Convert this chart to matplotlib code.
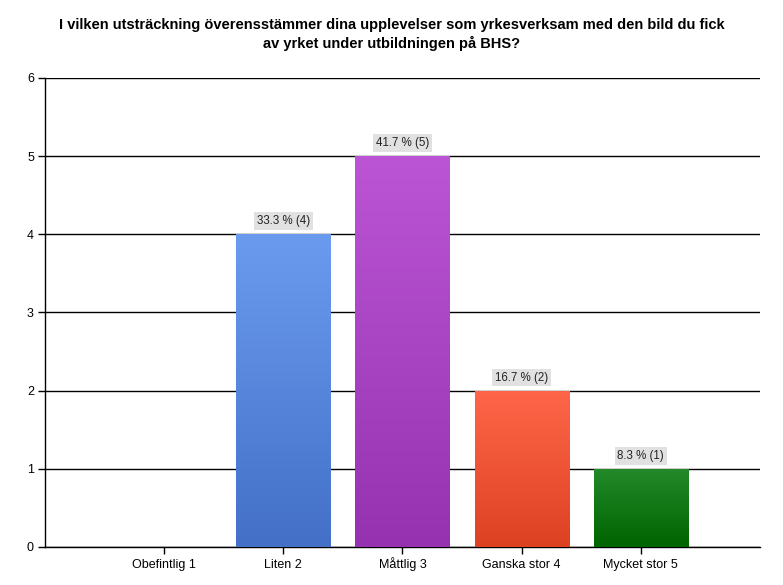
import matplotlib.pyplot as plt
import numpy as np
from matplotlib.colors import LinearSegmentedColormap

plt.rcParams['font.family'] = ['Liberation Sans', 'DejaVu Sans']

# data
categories = ['Obefintlig 1', 'Liten 2', 'Måttlig 3', 'Ganska stor 4', 'Mycket stor 5']
counts = [0, 4, 5, 2, 1]
percents = [0.0, 33.3, 41.7, 16.7, 8.3]
top_colors = ['#6a9bee', '#6a9bee', '#bb55d5', '#ff6548', '#23892a']
bottom_colors = ['#4470c8', '#4470c8', '#9632b0', '#dc4222', '#006400']
title = ('I vilken utsträckning överensstämmer dina upplevelser som yrkesverksam med den bild du fick\n'
         'av yrket under utbildningen på BHS?')

fig = plt.figure(figsize=(7.83, 5.85), dpi=100)
ax = fig.add_axes([0.0575, 0.065, 0.913, 0.802])

x = np.arange(1, len(categories) + 1)
bars = ax.bar(x, counts, width=0.79, color='none', edgecolor='none', zorder=3)

# vertical gradient inside each bar
grad = np.linspace(0, 1, 256).reshape(-1, 1)
for i, b in enumerate(bars):
    if counts[i] == 0:
        continue
    cmap = LinearSegmentedColormap.from_list('g%d' % i, [bottom_colors[i], top_colors[i]])
    x0, y0 = b.get_x(), b.get_y()
    im = ax.imshow(grad, cmap=cmap, aspect='auto', origin='lower',
                   extent=[x0, x0 + b.get_width(), y0, y0 + b.get_height()], zorder=3)
    im.set_clip_path(b)
    ax.text(x[i], counts[i] + 0.09, '%.1f %% (%d)' % (percents[i], counts[i]),
            ha='center', va='bottom', fontsize=8.3, color='#222222', zorder=4,
            bbox=dict(boxstyle='square,pad=0.25', fc='#e1e1e1', ec='none'))

ax.set_xlim(0, 6)
ax.set_ylim(0, 6)
ax.set_xticks(x)
ax.set_xticklabels(categories, fontsize=9)
for lab in ax.get_xticklabels():
    lab.set_va('baseline')
ax.set_yticks(range(0, 7))
ax.tick_params(axis='y', labelsize=9, length=5, width=1, pad=3)
ax.tick_params(axis='x', length=5, width=1, pad=10, direction='out')
ax.yaxis.grid(True, color='black', linewidth=1)
ax.set_axisbelow(True)
for s in ['top', 'right']:
    ax.spines[s].set_visible(False)
ax.spines['left'].set_linewidth(1)
ax.spines['bottom'].set_linewidth(1)

fig.text(0.5, 0.97, title, ha='center', va='top', fontsize=10.5, fontweight='bold',
         linespacing=1.4)

fig.savefig('out.png', dpi=100)
